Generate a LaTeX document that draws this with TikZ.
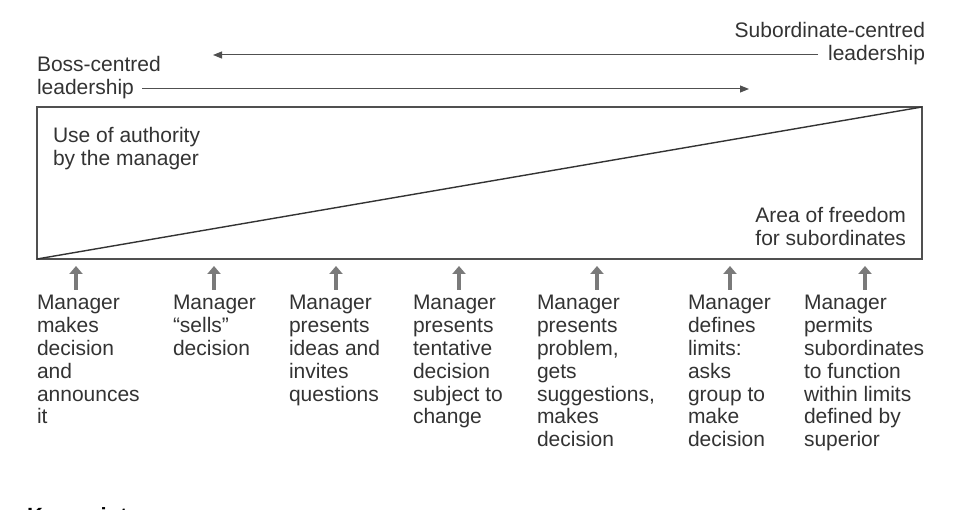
\documentclass[tikz,border=0pt]{standalone}
\usepackage{fontspec}
\setmainfont{Liberation Sans}
\usetikzlibrary{arrows.meta}
\definecolor{ink}{HTML}{333333}
\definecolor{linec}{HTML}{505050}
\definecolor{arrg}{HTML}{7A7A7A}
\begin{document}
\begin{tikzpicture}[x=1pt,y=-1pt,
  txt/.style={inner sep=0pt,outer sep=0pt,text=ink,font=\fontsize{21}{22.9}\selectfont},
  lbl/.style={txt,anchor=north west,align=left},
  lblr/.style={txt,anchor=north east,align=right},
  frame/.style={draw=linec,line width=1.5pt},
  flow/.style={draw=linec,line width=1pt,-{Triangle[length=9pt,width=7pt]}},
  up/.style={draw=arrg,line width=4.5pt,-{Triangle[length=8pt,width=13pt]},shorten >=0pt}
]
\useasboundingbox (0,0) rectangle (975,510);
\fill[white] (0,0) rectangle (975,510);

% box
\coordinate (bl) at (37,259);
\coordinate (tr) at (922,107);
\draw[frame] (bl) rectangle (tr);
\draw[draw=ink,line width=1.4pt] (bl) -- (tr);

% top labels
\node[lbl] (boss) at (37,56) {Boss-centred\\leadership};
\node[lblr] (sub) at (925,22) {Subordinate-centred\\leadership};
\coordinate (subend) at (818,55);
\coordinate (subtip) at (213,55);
\coordinate (bossstart) at (142,89);
\coordinate (bosstip) at (749,89);
\draw[flow] (subend) -- (subtip);
\draw[flow] (bossstart) -- (bosstip);

% inner labels
\node[lbl] (auth) at (53,127) {Use of authority\\by the manager};
\node[lblr] (free) at (906,207) {Area of freedom\\for subordinates};

% columns
\node[lbl] (c1) at (37,295) {Manager\\makes\\decision\\and\\announces\\it};
\node[lbl] (c2) at (173,295) {Manager\\“sells”\\decision};
\node[lbl] (c3) at (289,295) {Manager\\presents\\ideas and\\invites\\questions};
\node[lbl] (c4) at (413,295) {Manager\\presents\\tentative\\decision\\subject to\\change};
\node[lbl] (c5) at (537,295) {Manager\\presents\\problem,\\gets\\suggestions,\\makes\\decision};
\node[lbl] (c6) at (688,295) {Manager\\defines\\limits:\\asks\\group to\\make\\decision};
\node[lbl] (c7) at (804,295) {Manager\\permits\\subordinates\\to function\\within limits\\defined by\\superior};

\foreach \i/\x in {1/76,2/214,3/336,4/459,5/597,6/730,7/865}{
  \coordinate (a\i) at (\x,290);
  \coordinate (b\i) at (\x,266);
  \draw[up] (a\i) -- (b\i);
}

% cut-off heading
\node[inner sep=0pt,anchor=base west,text=black,font=\fontsize{22}{26}\selectfont\bfseries] (kp) at (27,523) {Key points};
\end{tikzpicture}
\end{document}
